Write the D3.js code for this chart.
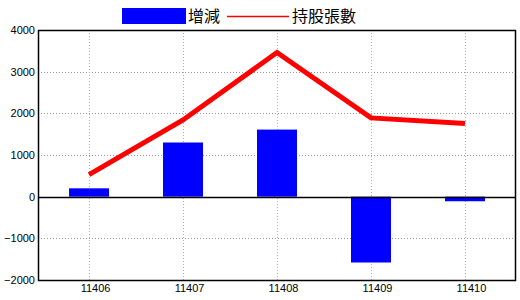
<!DOCTYPE html>
<html>
<head>
<meta charset="utf-8">
<script src="https://cdn.jsdelivr.net/npm/d3@7"></script>
<style>
  body { margin: 0; background: #fff; }
  .tick text { font-family: "Liberation Sans", Arial, sans-serif; font-size: 11px; fill: #000; }
  .legend text { font-family: "Noto Sans CJK TC", sans-serif; font-size: 16px; }
</style>
</head>
<body>
<script>
// data
var months = ["11406", "11407", "11408", "11409", "11410"];
var change = [200, 1300, 1610, -1580, -110];      // 增減
var holding = [530, 1840, 3460, 1890, 1755];      // 持股張數
var yTicks = [-2000, -1000, 0, 1000, 2000, 3000, 4000];

var width = 520, height = 300;
var plotL = 38, plotR = 516, plotT = 30, plotB = 280;

var svg = d3.select("body").append("svg")
    .attr("width", width)
    .attr("height", height);

var x = d3.scalePoint().domain(months).range([plotL, plotR]).padding(0.543);
var y = d3.scaleLinear().domain([-2000, 4000]).range([plotB, plotT]);

// grid
svg.append("g").selectAll("line")
    .data(yTicks.filter(function (d) { return d !== 0 && d !== 4000 && d !== -2000; }))
  .enter().append("line")
    .attr("x1", plotL).attr("x2", plotR)
    .attr("y1", function (d) { return Math.round(y(d)) + 0.5; })
    .attr("y2", function (d) { return Math.round(y(d)) + 0.5; })
    .style("stroke", "#999")
    .style("stroke-dasharray", "1,2");

svg.append("g").selectAll("line")
    .data(months)
  .enter().append("line")
    .attr("x1", function (d) { return Math.round(x(d)) + 0.5; })
    .attr("x2", function (d) { return Math.round(x(d)) + 0.5; })
    .attr("y1", plotT).attr("y2", plotB)
    .style("stroke", "#9bb8c8")
    .style("stroke-dasharray", "1,2");

// bars
var barW = 40;
svg.append("g").selectAll("rect")
    .data(months)
  .enter().append("rect")
    .attr("x", function (d) { return x(d) - barW / 2; })
    .attr("y", function (d, i) { return y(Math.max(0, change[i])); })
    .attr("width", barW)
    .attr("height", function (d, i) { return Math.abs(y(change[i]) - y(0)); })
    .style("fill", "#0000ff");

// zero line
svg.append("line")
    .attr("x1", plotL).attr("x2", plotR)
    .attr("y1", Math.round(y(0)) + 0.5).attr("y2", Math.round(y(0)) + 0.5)
    .style("stroke", "#000").style("stroke-width", 1.5);

// holdings line
var line = d3.line()
    .x(function (d, i) { return x(months[i]); })
    .y(function (d) { return y(d); });

svg.append("path")
    .datum(holding)
    .attr("d", line)
    .style("fill", "none")
    .style("stroke", "#ff0000")
    .style("stroke-width", 5);

// frame
svg.append("rect")
    .attr("x", plotL + 0.5).attr("y", plotT + 0.5)
    .attr("width", plotR - plotL - 1).attr("height", plotB - plotT)
    .style("fill", "none").style("stroke", "#000").style("stroke-width", 1.5);

// axes
var yAxis = d3.axisLeft(y).tickValues(yTicks).tickFormat(d3.format("d"))
    .tickSize(0).tickPadding(3);
svg.append("g")
    .attr("transform", "translate(" + plotL + ",0)")
    .call(yAxis)
    .call(function (g) { g.select(".domain").remove(); });

var xAxis = d3.axisBottom(x).tickSize(0).tickPadding(4);
svg.append("g")
    .attr("transform", "translate(0," + plotB + ")")
    .call(xAxis)
    .call(function (g) { g.select(".domain").remove(); })
    .selectAll("text").attr("dx", "6px");

// legend
var lg = svg.append("g").attr("class", "legend");
lg.append("rect")
    .attr("x", 122).attr("y", 8).attr("width", 64).attr("height", 16)
    .style("fill", "#0000ff");
lg.append("text").attr("x", 188).attr("y", 22).text("增減");
lg.append("line")
    .attr("x1", 227).attr("x2", 289).attr("y1", 16.5).attr("y2", 16.5)
    .style("stroke", "#ff0000").style("stroke-width", 1.5);
lg.append("text").attr("x", 292).attr("y", 22).text("持股張數");
</script>
</body>
</html>
